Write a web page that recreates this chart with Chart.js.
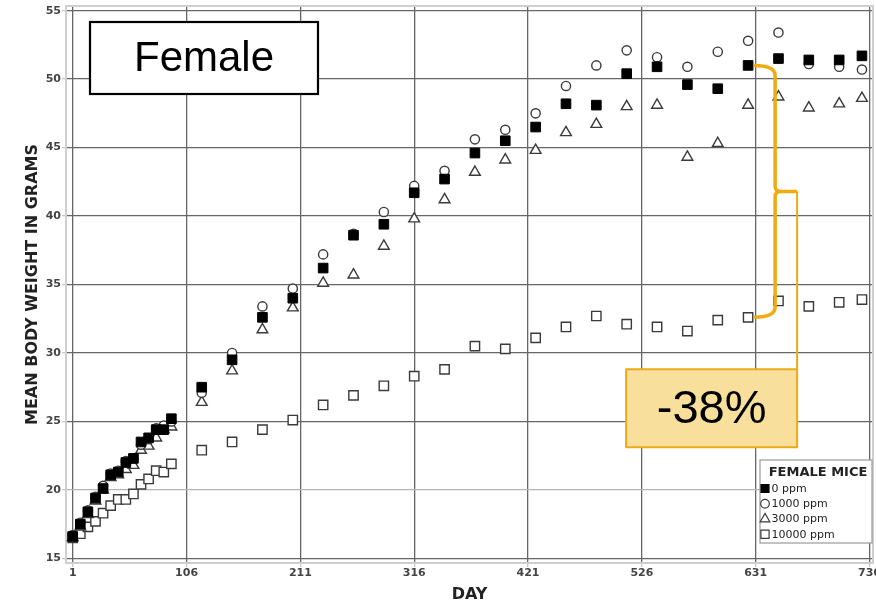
<!DOCTYPE html>
<html>
<head>
<meta charset="utf-8">
<script src="https://cdn.jsdelivr.net/npm/chart.js@4.4.1/dist/chart.umd.min.js"></script>
<style>
  html, body { margin: 0; padding: 0; background: #fff; }
  #wrap { width: 876px; height: 607px; position: relative; }
</style>
</head>
<body>
<div id="wrap"><canvas id="chart"></canvas></div>
<script>
// Mean body weight (g) of female mice
const days = [1, 8, 15, 22, 29, 36, 43, 50, 57, 64, 71, 78, 85, 92,
  120, 148, 176, 204, 232, 260, 288, 316, 344, 372, 400, 428, 456, 484,
  512, 540, 568, 596, 624, 652, 680, 708, 729];

const ppm0 = [16.6, 17.5, 18.4, 19.4, 20.1, 21.1, 21.3, 22.0, 22.3, 23.5, 23.8, 24.4, 24.4, 25.2,
  27.5, 29.5, 32.6, 34.0, 36.2, 38.6, 39.4, 41.7, 42.7, 44.6, 45.5, 46.5, 48.2, 48.1,
  50.4, 50.9, 49.6, 49.3, 51.0, 51.5, 51.4, 51.4, 51.7];
const ppm1000 = [16.7, 17.6, 18.5, 19.5, 20.3, 21.2, 21.4, 22.1, 22.3, 23.3, 23.7, 24.5, 24.7, 25.0,
  27.1, 30.0, 33.4, 34.7, 37.2, 38.7, 40.3, 42.2, 43.3, 45.6, 46.3, 47.5, 49.5, 51.0,
  52.1, 51.6, 50.9, 52.0, 52.8, 53.4, 51.1, 50.9, 50.7];
const ppm3000 = [16.5, 17.3, 18.2, 19.2, 20.0, 20.9, 21.1, 21.5, 21.8, 22.9, 23.2, 23.8, 24.4, 24.6,
  26.4, 28.7, 31.7, 33.3, 35.1, 35.7, 37.8, 39.8, 41.2, 43.2, 44.1, 44.8, 46.1, 46.7,
  48.0, 48.1, 44.3, 45.3, 48.1, 48.7, 47.9, 48.2, 48.6];
const ppm10000 = [16.5, 16.8, 17.3, 17.7, 18.3, 18.85, 19.3, 19.3, 19.7, 20.4, 20.8, 21.4, 21.3, 21.9,
  22.9, 23.5, 24.4, 25.1, 26.2, 26.9, 27.6, 28.3, 28.8, 30.5, 30.3, 31.1, 31.9, 32.7,
  32.1, 31.9, 31.6, 32.4, 32.6, 33.8, 33.4, 33.7, 33.9];

const seriesLabels = ['0 ppm', '1000 ppm', '3000 ppm', '10000 ppm'];
const xTicks = [1, 106, 211, 316, 421, 526, 631, 736];
const yTicks = [15, 20, 25, 30, 35, 40, 45, 50, 55];

const legendTitle = 'FEMALE MICE';
const panelLabel = 'Female';
const dropLabel = '-38%';
const braceDay = 624;

function toPoints(values) {
  return values.map((v, i) => ({ x: days[i], y: v }));
}

// fonts
const tickFont = { family: 'DejaVu Sans', size: 11, weight: 'bold' };
const titleFont = { family: 'DejaVu Sans', size: 16, weight: 'bold' };

// frame around the plot area (drawn on top of the grid)
const framePlugin = {
  id: 'frame',
  beforeDatasetsDraw(chart) {
    const { ctx, chartArea: a } = chart;
    ctx.save();
    ctx.strokeStyle = '#cfcfcf';
    ctx.lineWidth = 2;
    ctx.strokeRect(a.left, a.top, a.right - a.left, a.bottom - a.top);
    ctx.restore();
  }
};

// "Female" label, the orange brace and the -38% box
const annotationPlugin = {
  id: 'annotations',
  afterDatasetsDraw(chart) {
    const { ctx, chartArea: a, scales: { x, y } } = chart;
    ctx.save();

    // Female box
    const fx = a.left + 24, fy = a.top + 16, fw = 228, fh = 72;
    ctx.fillStyle = '#fff';
    ctx.fillRect(fx, fy, fw, fh);
    ctx.strokeStyle = '#000';
    ctx.lineWidth = 2.2;
    ctx.strokeRect(fx, fy, fw, fh);
    ctx.fillStyle = '#000';
    ctx.font = '42px "Liberation Sans", Arial, sans-serif';
    ctx.textAlign = 'center';
    ctx.textBaseline = 'middle';
    ctx.fillText(panelLabel, fx + fw / 2, fy + fh / 2 + 1);

    // brace between 0 ppm and 10000 ppm
    const i = days.indexOf(braceDay);
    const x0 = x.getPixelForValue(days[i]) + 6;
    const yTop = y.getPixelForValue(ppm0[i]);
    const yBot = y.getPixelForValue(ppm10000[i]);
    const yMid = (yTop + yBot) / 2;
    const xb = x0 + 21;
    const xt = x0 + 43;

    ctx.strokeStyle = '#EFAB10';
    ctx.lineWidth = 3.5;
    ctx.lineJoin = 'round';
    ctx.beginPath();
    ctx.moveTo(x0, yTop);
    ctx.quadraticCurveTo(xb, yTop, xb, yTop + 10);
    ctx.lineTo(xb, yMid - 5);
    ctx.quadraticCurveTo(xb, yMid, xb + 6, yMid);
    ctx.lineTo(xt, yMid);
    ctx.moveTo(xb + 6, yMid);
    ctx.quadraticCurveTo(xb, yMid, xb, yMid + 5);
    ctx.lineTo(xb, yBot - 10);
    ctx.quadraticCurveTo(xb, yBot, x0, yBot);
    ctx.stroke();

    // connector down to the percentage box
    const bw = 171, bh = 78;
    const bx = xt - bw, by = yBot + 52;
    ctx.lineWidth = 2;
    ctx.beginPath();
    ctx.moveTo(xt, yMid);
    ctx.lineTo(xt, by);
    ctx.stroke();

    ctx.fillStyle = '#F9DF9C';
    ctx.fillRect(bx, by, bw, bh);
    ctx.strokeStyle = '#EDAA14';
    ctx.lineWidth = 2;
    ctx.strokeRect(bx, by, bw, bh);
    ctx.fillStyle = '#000';
    ctx.font = '47px "Liberation Sans", Arial, sans-serif';
    ctx.fillText(dropLabel, bx + bw / 2, by + bh / 2 + 2);

    ctx.restore();
  }
};

// boxed legend in the lower right corner of the plot
const legendBoxPlugin = {
  id: 'legendBox',
  afterDatasetsDraw(chart) {
    const { ctx, chartArea: a } = chart;
    const w = 112, h = 83;
    const lx = a.right - 1 - w, ly = a.bottom - 20 - h;
    ctx.save();
    ctx.fillStyle = '#fff';
    ctx.fillRect(lx, ly, w, h);
    ctx.strokeStyle = '#9a9a9a';
    ctx.lineWidth = 1.2;
    ctx.strokeRect(lx, ly, w, h);

    ctx.fillStyle = '#222';
    ctx.textBaseline = 'middle';
    ctx.textAlign = 'center';
    ctx.font = 'bold 13px "DejaVu Sans"';
    ctx.fillText(legendTitle, lx + w / 2 + 2, ly + 12.5);

    const sizes = [5.6, 4.3, 5.6, 5.8];
    chart.data.datasets.forEach((ds, k) => {
      const cy = ly + 28.5 + k * 15.25;
      const cx = lx + 5;
      ctx.fillStyle = ds.backgroundColor;
      ctx.strokeStyle = ds.borderColor;
      ctx.lineWidth = 1.2;
      Chart.helpers.drawPoint(ctx, { pointStyle: ds.pointStyle, radius: sizes[k], rotation: 0, borderWidth: 1.2 }, cx, cy);
      ctx.fillStyle = '#222';
      ctx.textAlign = 'left';
      ctx.font = '11px "DejaVu Sans"';
      ctx.fillText(ds.label, lx + 11.5, cy + 0.5);
    });
    ctx.restore();
  }
};

const pointStyles = ['rect', 'circle', 'triangle', 'rect'];
const pointSizes = [6.8, 4.6, 6.2, 6.6];
const fills = ['#000', '#fff', '#fff', '#fff'];
const series = [ppm0, ppm1000, ppm3000, ppm10000];

const datasets = series.map((values, k) => ({
  label: seriesLabels[k],
  data: toPoints(values),
  pointStyle: pointStyles[k],
  pointRadius: pointSizes[k],
  pointHoverRadius: pointSizes[k],
  backgroundColor: fills[k],
  borderColor: k === 0 ? '#000' : '#3a3a3a',
  pointBorderWidth: k === 0 ? 1 : 1.4,
  showLine: false,
  clip: 10
}));

const ctx = document.getElementById('chart').getContext('2d');
new Chart(ctx, {
  type: 'scatter',
  data: { datasets: datasets },
  options: {
    responsive: true,
    maintainAspectRatio: false,
    animation: false,
    layout: { autoPadding: false, padding: { top: 6, right: 3, left: 0, bottom: 0 } },
    plugins: {
      legend: { display: false },
      tooltip: { enabled: false }
    },
    scales: {
      x: {
        type: 'linear',
        min: -5.2,
        max: 739.2,
        bounds: 'data',
        afterBuildTicks: (axis) => { axis.ticks = xTicks.map(v => ({ value: v })); },
        afterFit: (axis) => {
          axis.height = 44;
          axis.paddingLeft = 0;
          axis.paddingRight = 0;
        },
        grid: {
          color: '#666',
          lineWidth: 1.3,
          tickLength: 4,
          tickColor: '#c8c8c8'
        },
        border: { display: false },
        ticks: {
          font: tickFont,
          color: '#444',
          padding: 0,
          maxRotation: 0,
          autoSkip: false,
          callback: (v) => String(v)
        },
        title: {
          display: true,
          text: 'DAY',
          font: titleFont,
          color: '#222',
          padding: { top: 0, bottom: 3 }
        }
      },
      y: {
        type: 'linear',
        min: 14.66,
        max: 55.34,
        bounds: 'data',
        afterBuildTicks: (axis) => { axis.ticks = yTicks.map(v => ({ value: v })); },
        afterFit: (axis) => {
          axis.width = 66;
          axis.paddingTop = 0;
          axis.paddingBottom = 0;
        },
        grid: {
          color: (c) => (c.tick && c.tick.value === 20 ? '#b5b5b5' : '#666'),
          lineWidth: 1.3,
          tickLength: 4,
          tickColor: '#c8c8c8'
        },
        border: { display: false },
        ticks: {
          font: tickFont,
          color: '#444',
          padding: 1,
          autoSkip: false,
          callback: (v) => String(v)
        },
        title: {
          display: true,
          text: 'MEAN BODY WEIGHT IN GRAMS',
          font: titleFont,
          color: '#222',
          padding: { top: 23, bottom: 0 }
        }
      }
    }
  },
  plugins: [framePlugin, annotationPlugin, legendBoxPlugin]
});
</script>
</body>
</html>
